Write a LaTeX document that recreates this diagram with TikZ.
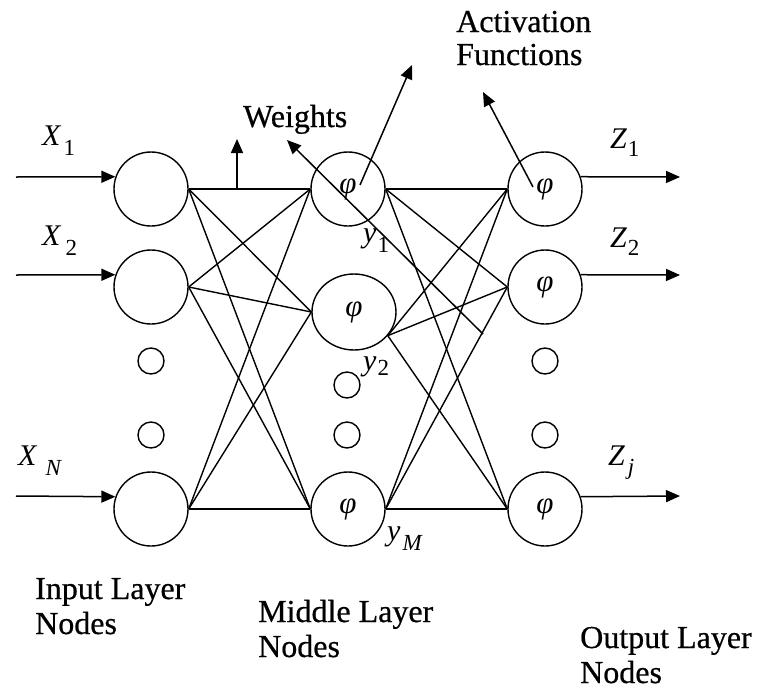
\documentclass[tikz,border=0pt]{standalone}
\usepackage{fontspec}
\setmainfont{Liberation Serif}
\usetikzlibrary{arrows.meta,shapes.geometric}
\newcommand{\sublab}[4]{{\fontsize{30}{30}\selectfont\itshape #1}\hspace{#3}\raisebox{#4}{\fontsize{23}{23}\selectfont #2}}
\begin{document}
\begin{tikzpicture}[x=1pt,y=-1pt,
  neuron/.style={circle,draw,line width=1.4pt,minimum size=74pt,inner sep=0pt,font=\fontsize{31}{31}\selectfont\itshape},
  dotn/.style={circle,draw,line width=1.4pt,minimum size=26pt,inner sep=0pt},
  conn/.style={line width=1.4pt},
  arr/.style={line width=1.5pt,-{Triangle[length=14pt,width=12pt]}},
  lbl/.style={font=\fontsize{32}{35}\selectfont\addfontfeature{FakeBold=0.6},inner sep=0pt,anchor=base west},
  mlbl/.style={inner sep=0pt,anchor=base west}
]
\useasboundingbox (0,0) rectangle (760,691);

% input layer
\node[neuron] (i1) at (151,189) {};
\node[neuron] (i2) at (151,287) {};
\node[dotn] (di1) at (151,361) {};
\node[dotn] (di2) at (151,435) {};
\node[neuron] (iN) at (151,509) {};

% middle layer
\node[neuron] (m1) at (348,189) {φ};
\node[ellipse,draw,line width=1.4pt,minimum width=84pt,minimum height=76pt,inner sep=0pt,font=\fontsize{31}{31}\selectfont\itshape] (m2) at (354,312) {φ};
\node[dotn] (dm1) at (347,385) {};
\node[dotn] (dm2) at (347,435) {};
\node[neuron] (mM) at (348,509) {φ};

% output layer
\node[neuron] (o1) at (545,189) {φ};
\node[neuron] (o2) at (545,287) {φ};
\node[dotn] (do1) at (545,361) {};
\node[dotn] (do2) at (545,435) {};
\node[neuron] (oj) at (545,509) {φ};

% input -> middle
\foreach \a in {i1,i2,iN}{
  \foreach \b in {m1,m2,mM}{
    \draw[conn] (\a.east) -- (\b.west);
  }
}
% middle -> output
\coordinate (m1out) at (m1.east);
\coordinate (m2out) at (m2.-35);
\coordinate (mMout) at (mM.east);
\foreach \a in {m1out,m2out,mMout}{
  \foreach \b in {o1,o2,oj}{
    \draw[conn] (\a) -- (\b.west);
  }
}

% input arrows
\coordinate (xin1) at (16,177);
\coordinate (xin2) at (16,275);
\coordinate (xinN) at (16,496);
\draw[arr] (xin1) -- (i1.161);
\draw[arr] (xin2) -- (i2.161);
\draw[arr] (xinN) -- (iN.161);

% output arrows
\coordinate (zo1) at (680,177);
\coordinate (zo2) at (680,275);
\coordinate (zoj) at (680,496);
\draw[arr] (o1.19) -- (zo1);
\draw[arr] (o2.19) -- (zo2);
\draw[arr] (oj.19) -- (zoj);

% weights arrows
\coordinate (w1s) at (237,189);
\coordinate (w1t) at (237,139);
\coordinate (w2s) at (483,334);
\coordinate (w2t) at (287,140);
\draw[arr] (w1s) -- (w1t);
\draw[arr] (w2s) -- (w2t);

% activation arrows
\coordinate (a1s) at (360,185);
\coordinate (a1t) at (412,65);
\coordinate (a2s) at (533,187);
\coordinate (a2t) at (483,92);
\draw[arr] (a1s) -- (a1t);
\draw[arr] (a2s) -- (a2t);

% text labels
\node[lbl] (tw) at (243,127) {Weights};
\node[lbl] (ta1) at (456,32) {Activation};
\node[lbl] (ta2) at (456,65) {Functions};
\node[lbl] (ti1) at (35,599) {Input Layer};
\node[lbl] (ti2) at (35,634) {Nodes};
\node[lbl] (tm1) at (258,622) {Middle Layer};
\node[lbl] (tm2) at (258,657) {Nodes};
\node[lbl] (to1) at (580,648) {Output Layer};
\node[lbl] (to2) at (580,683) {Nodes};

% math labels
\node[mlbl] (lx1) at (42,145) {\sublab{X}{1}{3pt}{-10pt}};
\node[mlbl] (lx2) at (42,245) {\sublab{X}{2}{5pt}{-10pt}};
\node[mlbl] (lxN) at (18,465) {\sublab{X}{\itshape N}{9pt}{-10pt}};
\node[mlbl] (ly1) at (363,242) {\sublab{y}{1}{1pt}{-10pt}};
\node[mlbl] (ly2) at (363,370) {\sublab{y}{2}{1pt}{-5pt}};
\node[mlbl] (lyM) at (387,540) {\sublab{y}{\itshape M}{2pt}{-10pt}};
\node[mlbl] (lz1) at (610,148) {\sublab{Z}{1}{1pt}{-8pt}};
\node[mlbl] (lz2) at (610,247) {\sublab{Z}{2}{1pt}{-8pt}};
\node[mlbl] (lzj) at (608,465) {\sublab{Z}{\itshape j}{3pt}{-9pt}};
\end{tikzpicture}
\end{document}
